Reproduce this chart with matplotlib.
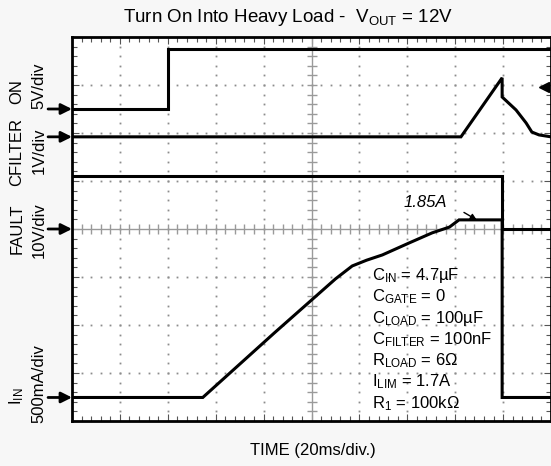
import numpy as np
import matplotlib.pyplot as plt

plt.rcParams['font.family'] = 'Liberation Sans'
plt.rcParams['mathtext.fontset'] = 'custom'
plt.rcParams['mathtext.rm'] = 'Liberation Sans'
plt.rcParams['mathtext.it'] = 'Liberation Sans:italic'

# Scope screen: 10 x 8 divisions, 20 ms/div
MS_PER_DIV = 20
N_XDIV, N_YDIV = 10, 8

# ON pin, 5V/div, ground marker at 6.5 div
on_t = [0, 40, 40, 200]
on_v = [0, 0, 6.25, 6.25]
on_scale, on_gnd = 5.0, 6.5

# CFILTER, 1V/div
cf_t = [0, 162.4, 179.6, 179.6, 185.4, 189.6, 192, 195, 200]
cf_v = [0, 0, 1.23, 0.83, 0.56, 0.29, 0.10, 0.04, 0]
cf_scale, cf_gnd = 1.0, 5.92
cf_trigger = 1.04

# FAULT, 10V/div
fault_t = [0, 179.6, 179.6, 200]
fault_v = [11, 11, 0, 0]
fault_scale, fault_gnd = 10.0, 4.0

# Input current, 500mA/div
iin_t = [0, 54.6, 84.6, 110, 117, 123, 129.6, 140.8, 150.4, 157.6, 161.6, 179.6, 179.6, 200]
iin_a = [0, 0, 0.675, 1.235, 1.37, 1.43, 1.485, 1.61, 1.715, 1.775, 1.85, 1.85, 0, 0]
iin_scale, iin_gnd = 0.5, 0.49
iin_peak = 1.85

cond_lines = [r'C$_{\rm IN}$ = 4.7µF', r'C$_{\rm GATE}$ = 0', r'C$_{\rm LOAD}$ = 100µF',
              r'C$_{\rm FILTER}$ = 100nF', r'R$_{\rm LOAD}$ = 6Ω', r'I$_{\rm LIM}$ = 1.7A',
              r'R$_{\rm 1}$ = 100kΩ']

W, H = 551, 466


def fx(px):
    return px / W


def fy(py):
    return 1 - py / H


def to_div(vals, scale, gnd):
    return gnd + np.asarray(vals) / scale


fig = plt.figure(figsize=(W / 100, H / 100), dpi=100, facecolor='#f7f7f7')
ax = fig.add_axes([fx(72), fy(421), fx(551 - 72), 384 / H])
ax.set_facecolor('white')
xmax = N_XDIV * MS_PER_DIV
ax.set_xlim(0, xmax)
ax.set_ylim(0, N_YDIV)

# dotted graticule
grid_col = '#8c8c8c'
ys = np.arange(0, N_YDIV + 0.01, 0.2)
xs = np.arange(0, xmax + 0.01, MS_PER_DIV / 5)
for i in range(1, N_XDIV):
    if i == N_XDIV // 2:
        continue
    ax.plot(np.full_like(ys, i * MS_PER_DIV), ys, ls='none', marker='s', ms=1.3, color=grid_col, mew=0)
for j in range(1, N_YDIV):
    if j == N_YDIV // 2:
        continue
    ax.plot(xs, np.full_like(xs, j), ls='none', marker='s', ms=1.3, color=grid_col, mew=0)

# center crosshair with tick marks
xc, yc = xmax / 2, N_YDIV / 2
ax.axvline(xc, color='#9a9a9a', lw=1)
ax.axhline(yc, color='#9a9a9a', lw=1)
ax.plot(np.full_like(ys, xc), ys, ls='none', marker='_', ms=7, mew=1, color='#9a9a9a')
ax.plot(xs, np.full_like(xs, yc), ls='none', marker='|', ms=7, mew=1, color='#9a9a9a')

# traces
tr = dict(color='black', lw=2.2, solid_joinstyle='miter')
ax.plot(on_t, to_div(on_v, on_scale, on_gnd), **tr)
ax.plot(cf_t, to_div(cf_v, cf_scale, cf_gnd), **tr)
ax.plot(fault_t, to_div(fault_v, fault_scale, fault_gnd), **tr)
ax.plot(iin_t, to_div(iin_a, iin_scale, iin_gnd), **tr)

# trigger level marker
ax.plot([xmax - 3], [cf_gnd + cf_trigger / cf_scale], marker='<', ms=7, color='black', clip_on=False)

# channel ground arrows
for gnd in [on_gnd, cf_gnd, fault_gnd, iin_gnd]:
    ax.annotate('', xy=(0, gnd), xytext=(-10, gnd), annotation_clip=False,
                arrowprops=dict(arrowstyle='-|>', lw=2, color='black', mutation_scale=16,
                                shrinkA=0, shrinkB=0))

# peak current callout
peak_div = iin_gnd + iin_peak / iin_scale
ax.annotate(f'{iin_peak:.2f}A', xy=(169, peak_div), xytext=(147.4, peak_div + 0.27),
            fontsize=12, style='italic', ha='center', va='baseline',
            arrowprops=dict(arrowstyle='-|>', lw=1, color='black', mutation_scale=9,
                            shrinkA=12, shrinkB=0, relpos=(1, 0.5)))

# test conditions
for k, line in enumerate(cond_lines):
    fig.text(fx(372), fy(280 + 21.33 * k), line, fontsize=12, ha='left', va='baseline')

# frame and ticks
for s in ax.spines.values():
    s.set_linewidth(2)
ax.set_xticks(np.arange(0, xmax + 1, MS_PER_DIV))
ax.set_yticks(np.arange(0, N_YDIV + 1, 1))
ax.set_xticks(xs, minor=True)
ax.set_yticks(ys, minor=True)
ax.tick_params(which='both', direction='in', top=True, right=True,
               labelbottom=False, labelleft=False, color='#555555', width=0.8)
ax.tick_params(which='major', length=5)
ax.tick_params(which='minor', length=3.5)

# channel labels
labels = [('ON', 17, 92), ('5V/div', 39, 86), ('CFILTER', 17, 152), ('1V/div', 39, 151),
          ('FAULT', 17, 229), ('10V/div', 39, 230), (r'I$_{\rm IN}$', 17, 396), ('500mA/div', 39, 384)]
for txt, px, py in labels:
    fig.text(fx(px), fy(py), txt, rotation=90, fontsize=12, ha='center', va='center')

fig.text(fx(288), fy(17), r'Turn On Into Heavy Load -  V$_{\rm OUT}$ = 12V', fontsize=13.5,
         ha='center', va='center')
fig.text(fx(313), fy(450), 'TIME (20ms/div.)', fontsize=12, ha='center', va='center')

fig.savefig('out.png', dpi=100, facecolor=fig.get_facecolor())
